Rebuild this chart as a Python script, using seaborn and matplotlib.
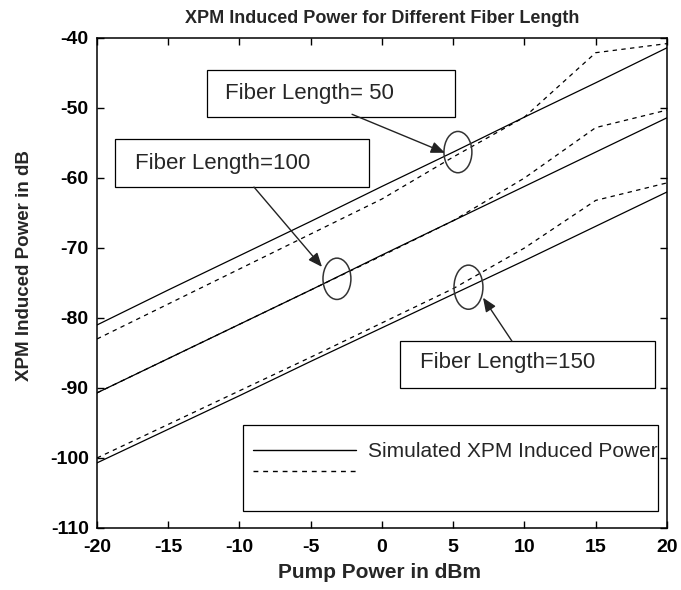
import matplotlib
matplotlib.use("Agg")
import matplotlib.pyplot as plt
import seaborn as sns
import pandas as pd
from matplotlib.patches import Rectangle, Ellipse
from matplotlib.lines import Line2D

# ---- data ----
pump_dbm = [-20, -15, -10, -5, 0, 5, 10, 15, 20]
sim_50 = [-81.0, -76.0, -71.1, -66.2, -61.2, -56.3, -51.3, -46.4, -41.4]
sim_100 = [-90.7, -85.8, -80.9, -76.0, -71.0, -66.1, -61.2, -56.3, -51.4]
sim_150 = [-100.7, -95.9, -91.1, -86.2, -81.4, -76.6, -71.8, -66.9, -62.0]
ana_50 = [-83.0, -78.0, -73.0, -68.0, -63.0, -57.0, -51.3, -42.1, -40.8]
ana_100 = [-90.7, -85.8, -80.9, -76.0, -71.1, -66.1, -60.0, -52.8, -50.3]
ana_150 = [-100.0, -95.2, -90.4, -85.6, -80.7, -75.8, -70.0, -63.2, -60.7]

x_ticks = [-20, -15, -10, -5, 0, 5, 10, 15, 20]
y_ticks = [-110, -100, -90, -80, -70, -60, -50, -40]

title = "XPM Induced Power for Different Fiber Length"
x_label = "Pump Power in dBm"
y_label = "XPM Induced Power in dB"
legend_labels = ["Simulated XPM Induced Power", " "]
box_labels = ["Fiber Length= 50", "Fiber Length=100", "Fiber Length=150"]

sns.set_style("ticks")
plt.rcParams["font.family"] = ["Liberation Sans", "DejaVu Sans"]

fig = plt.figure(figsize=(6.81, 5.90), dpi=100)
ax = fig.add_axes([0.1424, 0.1051, 0.8370, 0.8305])

solid_sets = [sim_50, sim_100, sim_150]
dash_sets = [ana_50, ana_100, ana_150]
for vals in solid_sets:
    sns.lineplot(x=pump_dbm, y=vals, ax=ax, color="black", lw=0.9,
                 linestyle="-", legend=False)
for vals in dash_sets:
    sns.lineplot(x=pump_dbm, y=vals, ax=ax, color="black", lw=0.9,
                 linestyle=(0, (3.5, 3.5)), legend=False)

ax.set_xlim(-20, 20)
ax.set_ylim(-110, -40)
ax.set_xticks(x_ticks)
ax.set_yticks(y_ticks)
ax.set_xticklabels([str(v) for v in x_ticks], fontsize=14, fontweight="bold")
ax.set_yticklabels([str(v) for v in y_ticks], fontsize=14, fontweight="bold")
ax.tick_params(direction="in", length=5, width=1.0, top=True, right=True,
               colors="black")
ax.tick_params(axis="x", pad=8)
ax.tick_params(axis="y", pad=6)
for s in ax.spines.values():
    s.set_linewidth(1.1)
    s.set_color("black")

ax.set_title(title, fontsize=13, fontweight="heavy", pad=11)
ax.set_xlabel(x_label, fontsize=15, fontweight="bold")
ax.set_ylabel(y_label, fontsize=13.5, fontweight="bold")
ax.xaxis.set_label_coords(0.495, -0.071)
ax.yaxis.set_label_coords(-0.112, 0.535)

# ---- annotation boxes ----
boxes = [(-12.3, -51.3, 17.42, 6.7), (-18.74, -61.3, 17.83, 6.9),
         (1.26, -90.0, 17.9, 6.7)]
text_pos = [(-11.02, -47.9), (-17.33, -57.9), (2.67, -86.4)]
for (bx, by, bw, bh), (tx, ty), lab in zip(boxes, text_pos, box_labels):
    ax.add_patch(Rectangle((bx, by), bw, bh, facecolor="white",
                           edgecolor="black", lw=0.9, zorder=4))
    ax.text(tx, ty, lab, fontsize=16, va="center", ha="left", zorder=5)

# ---- ellipses ----
ellipses = [(5.33, -56.3, 1.96, 5.9), (-3.16, -74.4, 1.96, 5.9),
            (6.07, -75.6, 2.03, 6.3)]
for cx, cy, w, h in ellipses:
    ax.add_patch(Ellipse((cx, cy), w, h, facecolor="none",
                         edgecolor="#333333", lw=1.1, zorder=5))

# ---- arrows ----
arrows = [((-2.1, -50.9), (4.42, -56.4)), ((-8.98, -61.3), (-4.21, -72.7)),
          ((9.12, -83.3), (7.09, -77.1))]
for tail, head in arrows:
    ax.annotate("", xy=head, xytext=tail,
                arrowprops=dict(arrowstyle="-|>,head_length=0.6,head_width=0.25",
                                mutation_scale=14, color="#222222", lw=1.0,
                                shrinkA=0, shrinkB=0), zorder=5)

# ---- legend ----
ax.add_patch(Rectangle((0.256, 0.035), 0.728, 0.175, transform=ax.transAxes,
                       facecolor="white", edgecolor="black", lw=0.9, zorder=4))
handles = [Line2D([], [], color="black", lw=1.0, linestyle="-"),
           Line2D([], [], color="black", lw=1.0, linestyle=(0, (3.5, 3.5)))]
leg = ax.legend(handles, legend_labels, loc="upper left",
                bbox_to_anchor=(0.274, 0.175), borderaxespad=0, borderpad=0,
                frameon=False, fontsize=15, handlelength=4.95,
                handletextpad=0.58, labelspacing=0.1)
leg.set_zorder(6)

fig.savefig("out.png", dpi=100)
